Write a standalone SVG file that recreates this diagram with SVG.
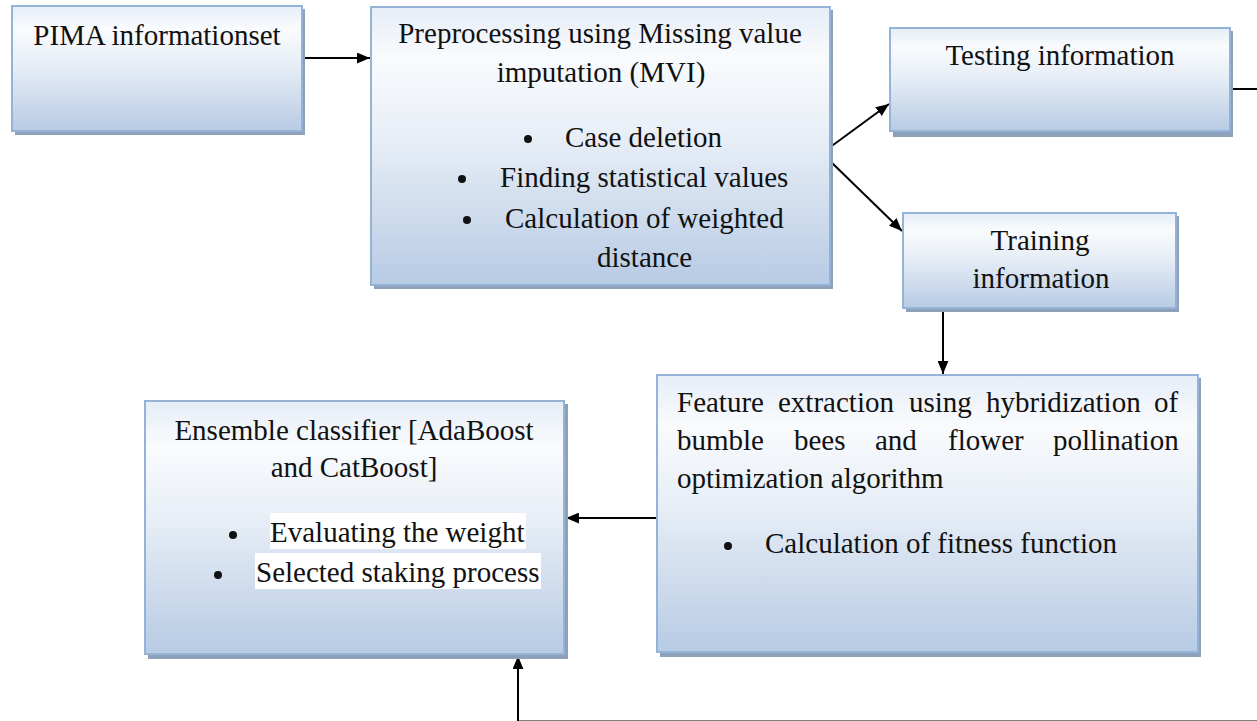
<svg xmlns="http://www.w3.org/2000/svg" width="1257" height="721" viewBox="0 0 1257 721">
  <defs>
    <linearGradient id="boxFill" x1="0" y1="0" x2="0" y2="1">
      <stop offset="0" stop-color="#e6edf7"/>
      <stop offset="0.18" stop-color="#f9fbfd"/>
      <stop offset="0.45" stop-color="#e9eff7"/>
      <stop offset="1" stop-color="#b7cbe4"/>
    </linearGradient>
    <marker id="arrow" viewBox="0 0 12 10" refX="12" refY="5" markerWidth="13" markerHeight="11" markerUnits="userSpaceOnUse" orient="auto">
      <path d="M0,0 L12,5 L0,10 Z" fill="#000"/>
    </marker>
  </defs>
  <style>
    .shadow { fill: #8ea1bb; }
    .box { fill: url(#boxFill); stroke: #95b3d7; stroke-width: 2; }
    .t { font-family: 'Liberation Serif', 'DejaVu Serif', serif; font-size: 29px; fill: #111; }
    .c { text-anchor: middle; }
    .dot { fill: #111; }
    .hl { fill: #ffffff; }
    .edge { fill: none; stroke: #000; stroke-width: 2; marker-end: url(#arrow); }
    .edge-plain { fill: none; stroke: #000; stroke-width: 2; }
  </style>
  <rect width="1257" height="721" fill="#ffffff"/>

  <!-- connectors -->
  <g id="connectors">
    <path class="edge" d="M303,58 H370"/>
    <path class="edge" d="M829,148 L889,104"/>
    <path class="edge" d="M829,160 L902,231"/>
    <path class="edge" d="M943,309 V374"/>
    <path class="edge" d="M656,518 H566"/>
    <path class="edge-plain" d="M1231,89 H1262 V721.5 H518"/>
    <path class="edge" d="M518,721.5 V656"/>
  </g>

  <g font-family="Liberation Serif, DejaVu Serif, serif">
  <!-- PIMA dataset -->
  <g id="pima">
    <rect class="shadow" x="15" y="9" width="290" height="126"/>
    <rect class="box" x="12" y="6" width="290" height="125"/>
    <text class="t c" x="157" y="45">PIMA informationset</text>
  </g>

  <!-- Preprocessing -->
  <g id="preprocessing">
    <rect class="shadow" x="374" y="10" width="459" height="279"/>
    <rect class="box" x="371" y="7" width="459" height="278"/>
    <text class="t c" x="600" y="43">Preprocessing using Missing value</text>
    <text class="t c" x="601" y="82">imputation (MVI)</text>
    <circle class="dot" cx="528" cy="139" r="4"/>
    <text class="t" x="565" y="147">Case deletion</text>
    <circle class="dot" cx="462" cy="179" r="4"/>
    <text class="t" x="500" y="187">Finding statistical values</text>
    <circle class="dot" cx="467" cy="220" r="4"/>
    <text class="t" x="505" y="228">Calculation of weighted</text>
    <text class="t" x="597" y="267">distance</text>
  </g>

  <!-- Testing -->
  <g id="testing">
    <rect class="shadow" x="893" y="31" width="340" height="106"/>
    <rect class="box" x="890" y="28" width="340" height="103"/>
    <text class="t c" x="1060" y="65">Testing information</text>
  </g>

  <!-- Training -->
  <g id="training">
    <rect class="shadow" x="906" y="216" width="273" height="96"/>
    <rect class="box" x="903" y="213" width="273" height="95"/>
    <text class="t c" x="1040" y="250">Training</text>
    <text class="t c" x="1041" y="288">information</text>
  </g>

  <!-- Feature extraction -->
  <g id="feature">
    <rect class="shadow" x="660" y="378" width="541" height="279"/>
    <rect class="box" x="657" y="375" width="541" height="277"/>
    <text class="t" y="412"><tspan x="677">Feature</tspan><tspan x="778">extraction</tspan><tspan x="909">using</tspan><tspan x="986">hybridization</tspan><tspan x="1154">of</tspan></text>
    <text class="t" y="450"><tspan x="677">bumble</tspan><tspan x="794">bees</tspan><tspan x="875">and</tspan><tspan x="948">flower</tspan><tspan x="1053">pollination</tspan></text>
    <text class="t" x="677" y="488">optimization algorithm</text>
    <circle class="dot" cx="728" cy="546" r="4"/>
    <text class="t" x="765" y="553">Calculation of fitness function</text>
  </g>

  <!-- Ensemble classifier -->
  <g id="ensemble">
    <rect class="shadow" x="148" y="404" width="420" height="255"/>
    <rect class="box" x="145" y="401" width="419" height="253"/>
    <text class="t c" x="354" y="440">Ensemble classifier [AdaBoost</text>
    <text class="t c" x="354" y="477">and CatBoost]</text>
    <rect class="hl" x="270" y="513" width="256" height="36"/>
    <circle class="dot" cx="233" cy="535" r="4"/>
    <text class="t" x="270" y="542">Evaluating the weight</text>
    <rect class="hl" x="255" y="553" width="286" height="36"/>
    <circle class="dot" cx="218" cy="575" r="4"/>
    <text class="t" x="256" y="582">Selected staking process</text>
  </g>
  </g>
</svg>
